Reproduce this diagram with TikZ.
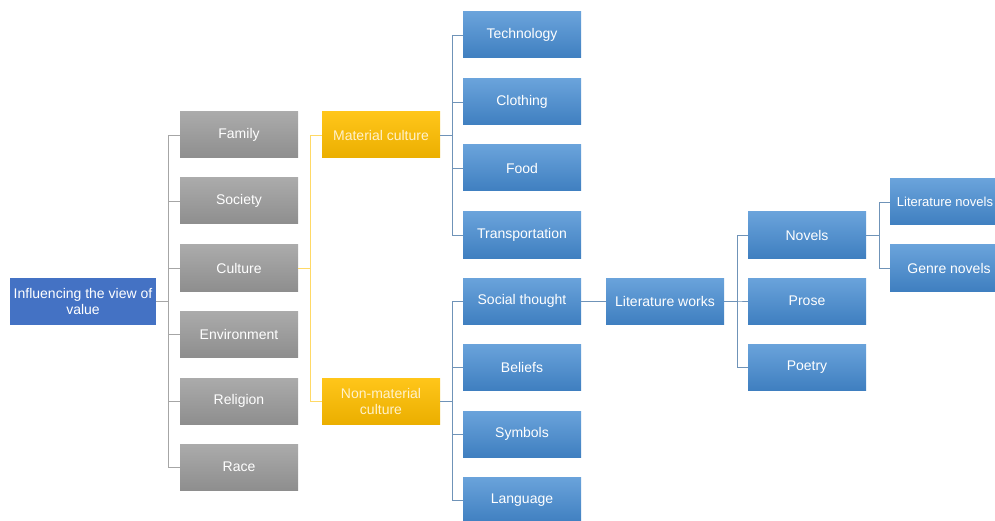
\documentclass[tikz,border=0pt]{standalone}
\usepackage{fontspec}
\setmainfont{Liberation Sans}
\usetikzlibrary{calc}
\definecolor{rootblue}{HTML}{4472C4}
\definecolor{btop}{HTML}{6AA3DB}
\definecolor{bbot}{HTML}{3F7FC0}
\definecolor{gtop}{HTML}{ABABAB}
\definecolor{gbot}{HTML}{8E8E8E}
\definecolor{ytop}{HTML}{FFC61A}
\definecolor{ybot}{HTML}{EBAF00}
\definecolor{gline}{HTML}{A6A6A6}
\definecolor{yline}{HTML}{FFD966}
\definecolor{bline}{HTML}{6F93B8}
\definecolor{ytext}{HTML}{FFF2CC}
\tikzset{
  x=1pt, y=-1pt,
  basebox/.style={minimum width=118pt, minimum height=46pt, inner sep=1pt, align=center,
    font=\fontsize{14}{16}\selectfont, text=white},
  graybox/.style={basebox, top color=gtop, bottom color=gbot},
  yellowbox/.style={basebox, top color=ytop, bottom color=ybot, text=ytext},
  bluebox/.style={basebox, top color=btop, bottom color=bbot},
  rootbox/.style={basebox, fill=rootblue, minimum width=146pt, minimum height=47pt},
  gconn/.style={draw=gline, line width=0.9pt},
  yconn/.style={draw=yline, line width=0.9pt},
  bconn/.style={draw=bline, line width=0.9pt},
}
\begin{document}
\begin{tikzpicture}
\useasboundingbox (0,0) rectangle (995,521);
\clip (0,0) rectangle (995,521);
% root
\node[rootbox] (root) at (83,301.5) {Influencing the view of\\value};
% gray column
\node[graybox] (family) at (239,135) {Family};
\node[graybox] (society) at (239,201) {Society};
\node[graybox] (culture) at (239,268) {Culture};
\node[graybox] (env) at (239,334) {Environment};
\node[graybox] (religion) at (239,401) {Religion};
\node[graybox] (race) at (239,467) {Race};
% yellow
\node[yellowbox] (mat) at (381,135) {Material culture};
\node[yellowbox] (nonmat) at (381,401) {Non-material\\culture};
% blue column
\node[bluebox] (tech) at (522,35) {Technology};
\node[bluebox] (cloth) at (522,102) {Clothing};
\node[bluebox] (food) at (522,168) {Food};
\node[bluebox] (trans) at (522,235) {Transportation};
\node[bluebox] (social) at (522,301) {Social thought};
\node[bluebox] (beliefs) at (522,367) {Beliefs};
\node[bluebox] (symbols) at (522,434) {Symbols};
\node[bluebox] (lang) at (522,500) {Language};
% literature
\node[bluebox] (litw) at (665,301) {Literature works};
\node[bluebox] (novels) at (807,235) {Novels};
\node[bluebox] (prose) at (807,301) {Prose};
\node[bluebox] (poetry) at (807,367) {Poetry};
\node[bluebox, font=\fontsize{13}{15}\selectfont] (litnov) at (949,202) {Literature novels\hspace*{8pt}};
\node[bluebox] (genre) at (949,268) {Genre novels};
% trunks
\coordinate (tg) at (168,0);
\coordinate (ty) at (310,0);
\coordinate (tb) at (452,0);
\coordinate (tl) at (737,0);
\coordinate (tn) at (879,0);
% gray connectors
\foreach \c in {family,society,culture,env,religion,race}
  \draw[gconn] (root.east) -- (root.east -| tg) |- (\c.west);
% yellow connectors
\foreach \c in {mat,nonmat}
  \draw[yconn] (culture.east) -- (culture.east -| ty) |- (\c.west);
% blue connectors
\foreach \c in {tech,cloth,food,trans}
  \draw[bconn] (mat.east) -- (mat.east -| tb) |- (\c.west);
\foreach \c in {social,beliefs,symbols,lang}
  \draw[bconn] (nonmat.east) -- (nonmat.east -| tb) |- (\c.west);
\draw[bconn] (social.east) -- (litw.west);
\foreach \c in {novels,prose,poetry}
  \draw[bconn] (litw.east) -- (litw.east -| tl) |- (\c.west);
\foreach \c in {litnov,genre}
  \draw[bconn] (novels.east) -- (novels.east -| tn) |- (\c.west);
\end{tikzpicture}
\end{document}
